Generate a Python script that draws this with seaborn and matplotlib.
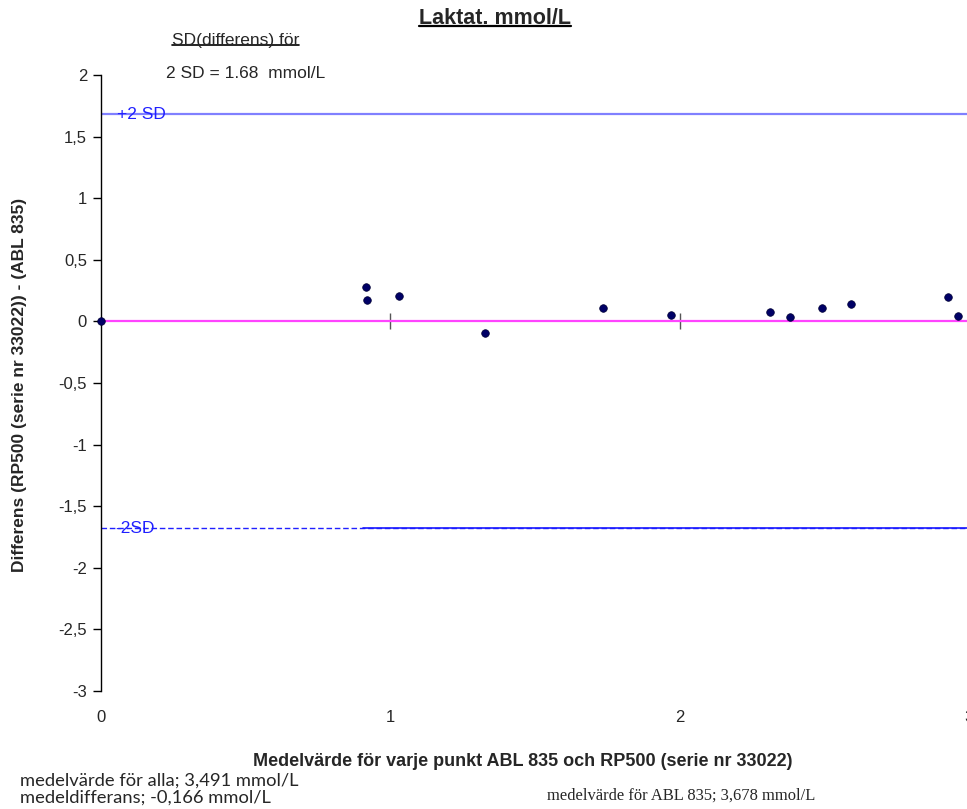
import matplotlib
matplotlib.use("Agg")
import matplotlib.pyplot as plt
import seaborn as sns
import pandas as pd
import numpy as np
from matplotlib.lines import Line2D
from matplotlib.transforms import Bbox

# ---- data ----
mean_values = [0.0, 0.917, 0.921, 1.03, 1.327, 1.736, 1.970, 2.312, 2.380, 2.493, 2.593, 2.929, 2.962]
differences = [0.0, 0.28, 0.173, 0.21, -0.095, 0.108, 0.054, 0.076, 0.035, 0.108, 0.14, 0.195, 0.043]
sd2 = 1.68
y_ticks = [-3, -2.5, -2, -1.5, -1, -0.5, 0, 0.5, 1, 1.5, 2]
x_ticks = [0, 1, 2, 3]
title = "Laktat. mmol/L"
xlabel = "Medelvärde för varje punkt ABL 835 och RP500 (serie nr 33022)"
ylabel = "Differens (RP500 (serie nr 33022)) - (ABL 835)"
sd_header = "SD(differens) för"
sd_text = "2 SD = 1,68  mmol/L"
note_all = "medelvärde för alla; 3,491 mmol/L"
note_diff = "medeldifferans; -0,166 mmol/L"
note_abl = "medelvärde för ABL 835; 3,678 mmol/L"

df = pd.DataFrame({"mean": mean_values, "diff": differences})

sns.set_theme(style="white")
plt.rcParams['font.family'] = ['Liberation Sans', 'DejaVu Sans']

W, H = 967, 809
fig = plt.figure(figsize=(W / 100, H / 100), dpi=100)
ax = fig.add_axes([101 / W, 1 - 691 / H, (969 - 101) / W, (691 - 75) / H])

# reference lines
ax.axhline(0, color="#ff44ff", lw=1.6, zorder=1)
ax.axhline(sd2, color="#8080ff", lw=1.6, zorder=1)
ax.axhline(-sd2, color="#2020ff", lw=1.0, ls=(0, (4, 2)), zorder=1)
xmin_nz = min(v for v in mean_values if v > 0) - 0.01
ax.plot([xmin_nz, 3.0], [-sd2, -sd2], color="#1a1aff", lw=1.2, zorder=1)

sns.scatterplot(data=df, x="mean", y="diff", ax=ax, color="#000066",
                s=30, edgecolor="#000033", linewidth=0.5, zorder=5, clip_on=False)

ax.set_xlim(0, 3)
ax.set_ylim(-3, 2)
ax.set_yticks(y_ticks)
ax.set_yticklabels([("%g" % v).replace(".", ",") for v in y_ticks])
ax.set_xticks(x_ticks)
ax.set_xticklabels([str(v) for v in x_ticks])
ax.tick_params(axis="y", direction="out", length=6, width=1, color="black",
               labelsize=12, pad=4, left=True)
ax.tick_params(axis="x", length=0, labelsize=12, pad=14)
for s in ["top", "right", "bottom"]:
    ax.spines[s].set_visible(False)
ax.spines["left"].set_color("black")
ax.spines["left"].set_linewidth(1)
ax.set_xlabel(xlabel, fontsize=13, fontweight="bold")
ax.set_ylabel(ylabel, fontsize=12.5, fontweight="bold")
ax.xaxis.set_label_coords((523 - 101) / 868, -(762 - 691) / 616)
ax.yaxis.set_label_coords((20 - 101) / 868, (691 - 385) / 616)
ax.yaxis.label.set_va("center")
ax.xaxis.label.set_va("center")

# ticks crossing at y=0
sec = ax.secondary_xaxis(0, transform=ax.transData)
sec.set_xticks([1, 2, 3])
sec.tick_params(axis="x", direction="inout", length=12, width=1, color="#555555", labelbottom=False)
sec.spines["bottom"].set_visible(False)

# line labels
ax.text(0.055, sd2, "+2 SD", color="#2020ff", fontsize=12.5, va="center", ha="left", zorder=3)
ax.text(0.05, -sd2, "-2SD", color="#2020ff", fontsize=12.5, va="center", ha="left", zorder=3)

# texts
t_title = fig.text(495 / W, 1 - 18 / H, title, fontsize=15.5, fontweight="bold", ha="center", va="center")
t_sd = fig.text(172 / W, 1 - 40 / H, sd_header, fontsize=12.5, ha="left", va="center")
t_sd2 = fig.text(166 / W, 1 - 74 / H, sd_text, fontsize=12.5, ha="left", va="center")
t_sd2.set_clip_on(True)
t_sd2.set_clip_box(Bbox.from_extents(0, H - 78, W, H))

fig.text(20 / W, 1 - 781 / H, note_all, fontsize=13.2, ha="left", va="center",
         family=["Lato", "Liberation Sans"])
fig.text(20 / W, 1 - 798 / H, note_diff, fontsize=13.2, ha="left", va="center",
         family=["Lato", "Liberation Sans"])
fig.text(547 / W, 1 - 796 / H, note_abl, fontsize=11.9, ha="left", va="center",
         family=["Liberation Serif"])

# underline title and SD header based on their rendered extents
fig.canvas.draw()
r = fig.canvas.get_renderer()
for t, lw in [(t_title, 1.6), (t_sd, 1.2)]:
    bb = t.get_window_extent(renderer=r)
    y = (bb.y0 + 3) / H
    fig.add_artist(Line2D([bb.x0 / W, bb.x1 / W], [y, y], color="black", lw=lw,
                          transform=fig.transFigure))

fig.savefig("out.png", dpi=100)
